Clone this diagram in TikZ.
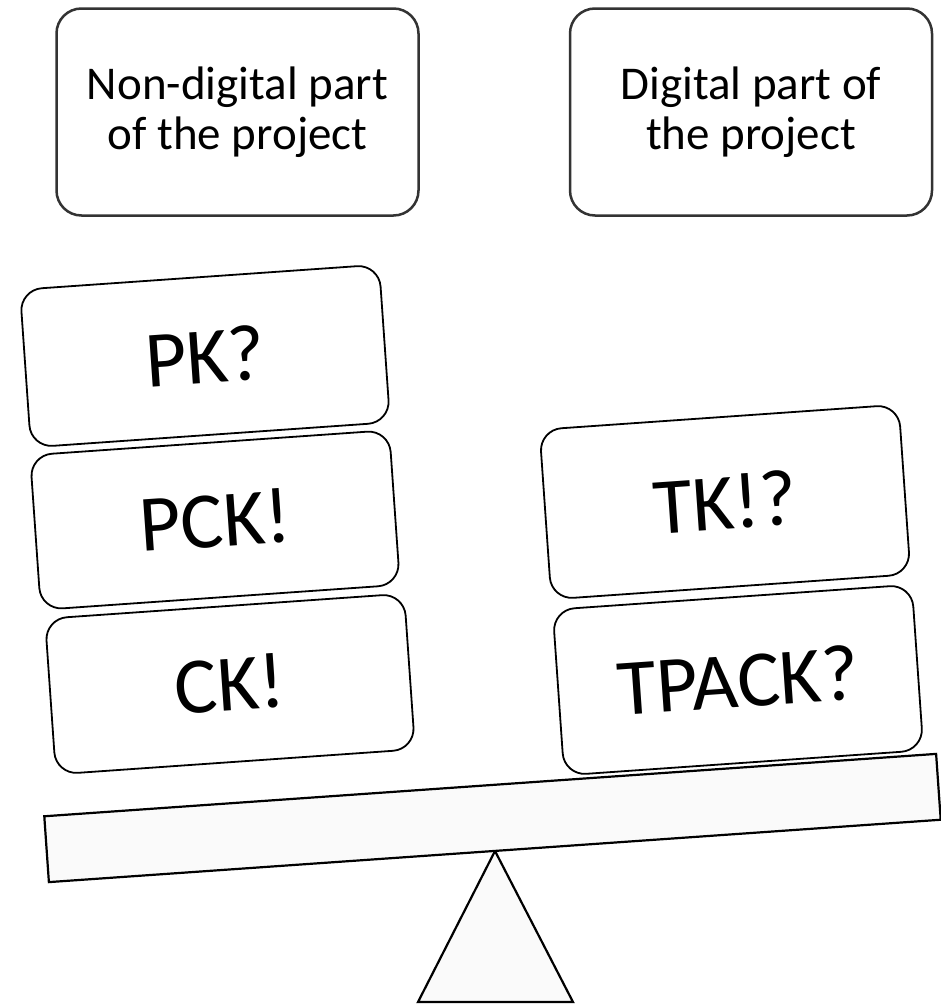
\documentclass[tikz,border=0pt]{standalone}
\usepackage{fontspec}
\setmainfont{Carlito}
\begin{document}
\begin{tikzpicture}[x=1pt,y=-1pt,
  topbox/.style={draw=black!80, line width=2.5pt, rounded corners=25pt, fill=white,
    minimum width=362pt, minimum height=207pt, align=center, inner sep=0pt,
    font=\fontsize{47}{50}\selectfont},
  kbox/.style={draw=black, line width=1.8pt, rounded corners=22pt, fill=white,
    minimum width=360pt, rotate=4, inner sep=0pt,
    font=\fontsize{80}{90}\selectfont},
  basepart/.style={draw=black, line width=2.2pt, fill=black!2, line join=miter}]
\useasboundingbox (0,0) rectangle (940,1004);

% top labels
\node[topbox] (nondig) at (237.5,112) {Non-digital part\\of the project};
\node[topbox] (dig) at (751,112) {Digital part of\\the project};

% seesaw: fulcrum first, then the beam on top of its apex
\coordinate (apex) at (495,851);
\coordinate (tl) at (418,1002);
\coordinate (tr) at (573,1002);
\draw[basepart] (apex) -- (tr) -- (tl) -- cycle;
\node[basepart, rotate=4, minimum width=894pt, minimum height=66pt, inner sep=0pt] (beam) at (492.5,818) {};

% left stack
\node[kbox, minimum height=156pt] (ck) at (230,684) {CK!};
\node[kbox, minimum height=155pt] (pck) at (215,520) {PCK!};
\node[kbox, minimum height=158pt] (pk) at (205,356) {PK?};

% right stack
\node[kbox, minimum height=166pt] (tpack) at (738,680) {TPACK?};
\node[kbox, minimum height=170pt] (tk) at (725,502) {TK!?};
\end{tikzpicture}
\end{document}
